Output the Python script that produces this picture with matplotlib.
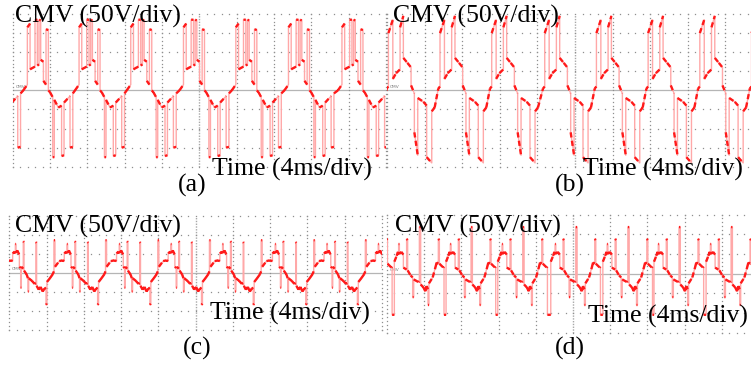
import numpy as np
import matplotlib
matplotlib.use('Agg')
import matplotlib.pyplot as plt

# one period of each CMV trace: time (ms), voltage (V)
a_t = [0.00, 0.43, 0.43, 0.72, 0.72, 1.07, 1.25, 1.25, 1.50, 1.50, 1.68, 1.68, 1.86, 1.86, 2.15, 2.15, 2.43,
       2.43, 2.68, 2.68, 2.86, 3.15, 3.15, 3.32, 3.32, 3.75, 4.10, 4.10, 4.36, 4.36, 5.00, 5.00, 5.30, 5.30]
a_v = [0, 15, 165, 175, 55, 60, 62, 185, 185, 65, 68, 185, 183, 80, 75, 25, 15,
       160, 158, 0, -5, -18, -175, -175, -25, -45, -40, -172, -170, -32, -15, -150, -148, -8]
a_starts = [-4.46, 1.14, 6.68, 12.22, 17.87, 23.48, 29.12, 34.85]

b_t = [0.00, 0.18, 0.18, 0.65, 0.65, 1.00, 1.42, 1.42, 1.77, 1.77, 2.20, 2.59, 2.59, 2.94, 2.94, 3.30,
       3.30, 3.90, 4.25, 4.25, 4.79, 4.79, 5.10]
b_v = [5, 10, 150, 185, 30, 45, 55, 165, 195, 85, 72, 60, 13, -8, -110, -170,
       -20, -30, -40, -175, -190, -55, -45]
b_starts = [-5.5, -0.03, 5.46, 10.96, 16.6, 22.1, 27.6, 33.1, 38.6]

c_t = [0.00, 0.00, 0.21, 0.29, 0.29, 0.36, 0.36, 0.50, 0.64, 0.72, 0.72, 0.86, 0.86, 0.93, 0.93, 1.14,
       1.14, 1.22, 1.22, 1.50, 1.64, 1.64, 1.72, 1.72, 2.07, 2.36, 2.50, 2.50, 2.57, 2.57, 2.79, 3.00,
       3.22, 3.43, 3.58, 3.58, 3.68, 3.68, 4.00, 4.29, 4.43, 4.43, 4.54, 4.54, 5.00, 5.36]
c_v = [30, 50, 55, 50, 75, 75, 52, 58, 50, 48, 15, 12, -40, -40, 15, 10,
       82, 80, 5, -5, -15, -50, -50, -15, -22, -30, -28, 80, 78, -35, -45, -38,
       -50, -42, -40, -85, -82, -25, -15, -5, 3, 85, 85, 15, 30, 32]
c_starts = [-5.2, 0.36, 5.9, 11.51, 17.05, 22.6, 28.24, 33.78, 39.3]

d_t = [0.00, 0.11, 0.11, 0.36, 0.50, 0.57, 0.57, 0.65, 0.65, 0.86, 1.08, 1.08, 1.43, 1.43, 1.54,
       1.54, 1.86, 2.08, 2.08, 2.19, 2.19, 2.72, 2.80, 2.80, 2.94, 2.94, 3.23, 3.44, 3.58, 3.73,
       3.73, 3.83, 3.83, 4.23, 4.52, 4.66, 4.84, 4.84, 4.95, 4.95, 5.38, 5.45, 5.45]
d_v = [-105, -105, 30, 45, 55, 48, 75, 75, 50, 55, 48, 15, 10, 88, 85,
       8, -5, -10, -60, -60, -15, -22, -20, 118, 118, -28, -35, -45, -32, -40,
       -80, -80, -25, -10, 15, 28, 25, 88, 85, 25, 15, 17, -105]
d_starts = [-4.9, 0.68, 6.24, 11.8, 17.5, 23.1, 28.6, 34.2, 39.75]

W, H = 751, 372
fig = plt.figure(figsize=(W / 100, H / 100), dpi=100)
serif = 'Liberation Serif'


def box(left, top, right, bottom):
    # pixel box (from top-left) -> figure fraction
    return [left / W, 1 - bottom / H, (right - left) / W, (bottom - top) / H]


def scope(rect, ndiv):
    ax = fig.add_axes(box(*rect))
    ax.set_xlim(0, 40)
    ax.set_ylim(-50 * ndiv, 50 * ndiv)
    ax.axis('off')
    grey = '#8f8f8f'
    # dotted graticule, a dot every 1/5 division
    for x in range(0, 41, 4):
        if x == 20:
            continue
        yy = np.arange(-50 * ndiv, 50 * ndiv + 1, 10)
        ax.plot([x] * len(yy), yy, ls='none', marker='s', ms=0.9, mew=0, color=grey, clip_on=False)
    for y in range(-50 * ndiv, 50 * ndiv + 1, 50):
        if y == 0:
            continue
        xx = np.arange(0, 40.01, 0.8)
        ax.plot(xx, [y] * len(xx), ls='none', marker='s', ms=0.9, mew=0, color=grey, clip_on=False)
    ax.axhline(0, color='#b5b5b5', lw=0.9, zorder=1)
    ax.axvline(20, color='#a8a8a8', lw=1.0, ls=(0, (1, 1)), zorder=1)
    ax.text(0.3, 4, 'CMV', fontsize=3.2, color='#777777', va='bottom', ha='left')
    return ax


def trace(ax, starts, pt, pv):
    t = np.concatenate([s + np.array(pt) for s in starts])
    v = np.concatenate([np.array(pv, dtype=float) for s in starts])
    ax.plot(t, v, color='#ffa8a8', lw=1.0, zorder=3)
    # slow (non-switching) parts show up brighter on the scope, as broken blobs
    tt, vv = [], []
    for i in range(len(t) - 1):
        if t[i + 1] > t[i]:
            tt += [t[i], t[i + 1], np.nan]
            vv += [v[i], v[i + 1], np.nan]
    ax.plot(tt, vv, color='#ff1a1a', lw=1.7, ls=(0, (2.2, 1.4)), zorder=4)


ax_a = scope((12.7, 14, 386, 166.7), 4)
trace(ax_a, a_starts, a_t, a_v)
ax_b = scope((387, 14, 763, 166.7), 4)
trace(ax_b, b_starts, b_t, b_v)
ax_c = scope((9.3, 215.5, 382, 329.5), 3)
trace(ax_c, c_starts, c_t, c_v)
ax_d = scope((387, 214.5, 759, 332.5), 3)
trace(ax_d, d_starts, d_t, d_v)


def label(x, y, s, ha='left'):
    fig.text(x / W, 1 - y / H, s, family=serif, fontsize=18.5, ha=ha, va='baseline', zorder=10)


label(15, 23, 'CMV (50V/div)')
label(393, 23, 'CMV (50V/div)')
label(15, 233, 'CMV (50V/div)')
label(395, 233, 'CMV (50V/div)')
label(212, 176, 'Time (4ms/div)')
label(583, 176, 'Time (4ms/div)')
label(210, 320, 'Time (4ms/div)')
label(588, 323, 'Time (4ms/div)')
label(192, 192, '(a)', ha='center')
label(570, 192, '(b)', ha='center')
label(197, 355, '(c)', ha='center')
label(570, 355, '(d)', ha='center')

fig.savefig('out.png', dpi=100)
